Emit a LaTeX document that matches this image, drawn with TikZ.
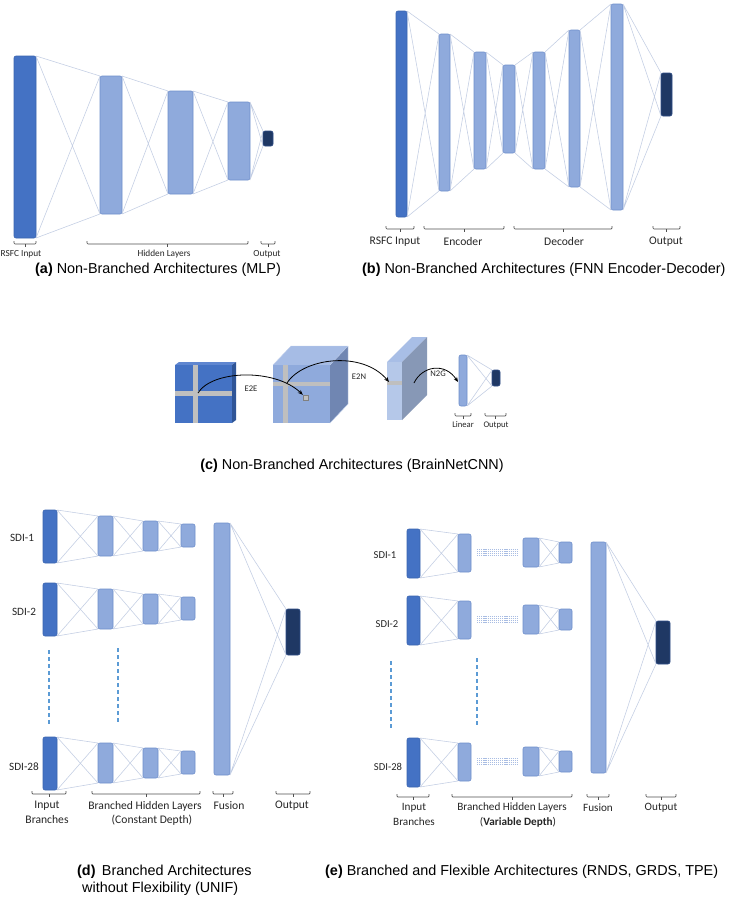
\documentclass[tikz,border=0pt]{standalone}
\usepackage{fontspec}
\setmainfont{Liberation Sans}
\newfontfamily\labf{Carlito}
\usetikzlibrary{arrows.meta}
\definecolor{inblue}{HTML}{4472C4}
\definecolor{inedge}{HTML}{3A64B0}
\definecolor{hidfill}{HTML}{8FAADC}
\definecolor{hidedge}{HTML}{6E8ECB}
\definecolor{outfill}{HTML}{1F3864}
\definecolor{outedge}{HTML}{2E4C86}
\definecolor{conncol}{HTML}{C2CDE3}
\definecolor{bracecol}{HTML}{505050}
\definecolor{txtcol}{HTML}{262626}
\definecolor{dashcol}{HTML}{5B9BD5}
\definecolor{crossgray}{HTML}{BFBFBF}
\definecolor{sqtop}{HTML}{5F86D0}
\definecolor{sqside}{HTML}{2F5597}
\definecolor{cubefront}{HTML}{8FAADC}
\definecolor{cubetop}{HTML}{A6BCE5}
\definecolor{cubeside}{HTML}{7086B2}
\definecolor{slabfront}{HTML}{B5C8E9}
\definecolor{slabtop}{HTML}{A8BEE6}
\definecolor{slabside}{HTML}{8798B6}
\definecolor{dotcol}{HTML}{A9BDE3}
\newcommand{\lay}[6]{\node[#1, minimum width={(#4)-(#2)}, minimum height={(#5)-(#3)}] (#6) at ({((#2)+(#4))/2},{((#3)+(#5))/2}) {};}
\newcommand{\fc}[2]{\draw[conn] (#1.north east) -- (#2.north west) (#1.north east) -- (#2.south west) (#1.south east) -- (#2.north west) (#1.south east) -- (#2.south west);}
\newcommand{\brc}[3]{\draw[brk] ({#1},{#3}) -- ({#1},{#3+3}) -- ({#2},{#3+3}) -- ({#2},{#3}); \draw[brk] ({((#1)+(#2))/2},{#3+3}) -- ({((#1)+(#2))/2},{#3+6});}
\tikzset{
  layerbase/.style={rectangle, rounded corners=2pt, line width=0.6pt, inner sep=0pt, outer sep=0pt},
  inlayer/.style={layerbase, draw=inedge, fill=inblue},
  hidlayer/.style={layerbase, draw=hidedge, fill=hidfill},
  outlayer/.style={layerbase, draw=outedge, fill=outfill},
  conn/.style={draw=conncol, line width=0.55pt},
  brk/.style={draw=bracecol, line width=0.7pt, rounded corners=1pt},
  lab/.style={font=\labf\fontsize{#1}{#1}\selectfont, text=txtcol, inner sep=0pt},
  captext/.style={font=\fontsize{14.4}{16}\selectfont, text=black, inner sep=0pt},
  arr/.style={draw=black, line width=0.8pt, -{Stealth[length=5pt,width=4pt]}},
  vdash/.style={draw=dashcol, line width=1.2pt, dash pattern=on 4pt off 3pt},
  hdots/.style={draw=dotcol, line width=0.5pt, dash pattern=on 1.2pt off 0.9pt},
}
\begin{document}
\begin{tikzpicture}[x=1pt,y=-1pt]
\useasboundingbox[fill=white] (0,0) rectangle (732,900);

% ---------------- (a) MLP
\lay{inlayer}{14}{56}{36}{238}{a0}
\lay{hidlayer}{100}{76}{122}{214}{a1}
\lay{hidlayer}{168}{91}{193}{194}{a2}
\lay{hidlayer}{228}{102}{250}{180}{a3}
\lay{outlayer}{263}{131}{273}{146}{a4}
\fc{a0}{a1}\fc{a1}{a2}\fc{a2}{a3}\fc{a3}{a4}
\brc{14}{36}{241}\brc{87}{248}{241}\brc{261}{275}{241}
\node[lab=9.3] (la0) at (21,254) {RSFC Input};
\node[lab=9.3] (la1) at (164,254) {Hidden Layers};
\node[lab=9.3] (la2) at (267,254) {Output};
\node[captext, anchor=west] (capa) at (35,270) {{\bfseries (a)} Non-Branched Architectures (MLP)};

% ---------------- (b) Encoder-Decoder
\lay{inlayer}{396}{11}{407}{217}{b0}
\lay{hidlayer}{439}{34}{450}{191}{b1}
\lay{hidlayer}{474}{52}{486}{169}{b2}
\lay{hidlayer}{503}{65}{515}{153}{b3}
\lay{hidlayer}{533}{52}{545}{169}{b4}
\lay{hidlayer}{569}{30}{580}{187}{b5}
\lay{hidlayer}{611}{4}{623}{210}{b6}
\lay{outlayer}{661}{73}{672}{116}{b7}
\fc{b0}{b1}\fc{b1}{b2}\fc{b2}{b3}\fc{b3}{b4}\fc{b4}{b5}\fc{b5}{b6}\fc{b6}{b7}
\brc{386}{414}{226}\brc{424}{504}{226}\brc{514}{612}{226}\brc{653}{680}{226}
\node[lab=11.6] (lb0) at (395,242) {RSFC Input};
\node[lab=11.6] (lb1) at (463,242) {Encoder};
\node[lab=11.6] (lb2) at (564,242) {Decoder};
\node[lab=11.6] (lb3) at (666,242) {Output};
\node[captext, anchor=west] (capb) at (362,270) {{\bfseries (b)} Non-Branched Architectures (FNN Encoder-Decoder)};

% ---------------- (c) BrainNetCNN
\fill[sqtop] (175,365) -- (179,362) -- (236,362) -- (232,365) -- cycle;
\fill[sqside] (232,365) -- (236,362) -- (236,420) -- (232,423) -- cycle;
\fill[inblue] (175,365) rectangle (232,423);
\fill[crossgray] (193,365) rectangle (198,423);
\fill[crossgray] (175,391) rectangle (232,396);
\fill[cubetop] (273,365) -- (291,346) -- (348,346) -- (330,365) -- cycle;
\fill[cubeside] (330,365) -- (348,346) -- (348,404) -- (330,423) -- cycle;
\fill[cubefront] (273,365) rectangle (330,423);
\draw[cubetop!70!white, line width=0.4pt] (273,365) -- (291,346) -- (348,346) -- (348,404) -- (330,423) (330,365) -- (348,346);
\fill[crossgray] (283,365) rectangle (288,423);
\fill[crossgray] (273,382) rectangle (330,386);
\node[draw=gray, fill=crossgray, line width=0.4pt, minimum size=5pt, inner sep=0pt] (sq) at (305.5,397.5) {};
\fill[slabtop] (387,362) -- (412,337) -- (427,337) -- (402,362) -- cycle;
\fill[slabside] (402,362) -- (427,337) -- (427,395) -- (402,420) -- cycle;
\fill[slabfront] (387,362) rectangle (402,420);
\fill[crossgray] (387,381) rectangle (402,385);
\coordinate (e2es) at (198,393);
\coordinate (e2ee) at (sq.north west);
\coordinate (e2ns) at (287,383);
\coordinate (e2ne) at (389,382);
\coordinate (n2gs) at (414,383);
\draw[arr] (e2es) .. controls (212,370) and (275,368) .. (e2ee);
\draw[arr] (e2ns) .. controls (303,358) and (362,350) .. (e2ne);
\lay{hidlayer}{459}{355}{467}{406}{c1}
\lay{outlayer}{492}{370}{500}{386}{c2}
\coordinate (n2ge) at (458,382);
\draw[arr] (n2gs) .. controls (422,366) and (445,362) .. (n2ge);
\fc{c1}{c2}
\node[lab=8.6] (le2e) at (251,389) {E2E};
\node[lab=8.6] (le2n) at (359,377) {E2N};
\node[lab=8.6] (ln2g) at (438,374) {N2G};
\brc{455}{471}{413}\brc{485}{506}{413}
\node[lab=8.6] (lc1) at (463,425) {Linear};
\node[lab=8.6] (lc2) at (496,425) {Output};
\node[captext] (capc) at (352,466) {{\bfseries (c)} Non-Branched Architectures (BrainNetCNN)};

% ---------------- (d) UNIF
\foreach \o/\n in {0/1,73/2,227/28}{
  \lay{inlayer}{43}{510+\o}{57}{563+\o}{d\n i}
  \lay{hidlayer}{98}{516+\o}{113}{556+\o}{d\n a}
  \lay{hidlayer}{143}{521+\o}{158}{551+\o}{d\n b}
  \lay{hidlayer}{181}{524+\o}{195}{547+\o}{d\n c}
  \fc{d\n i}{d\n a}\fc{d\n a}{d\n b}\fc{d\n b}{d\n c}
}
\lay{hidlayer}{214}{523}{230}{775}{dfu}
\lay{outlayer}{286}{609}{300}{655}{dout}
\fc{dfu}{dout}
\coordinate (dv1a) at (49,650); \coordinate (dv1b) at (49,725);
\coordinate (dv2a) at (118,648); \coordinate (dv2b) at (118,723);
\draw[vdash] (dv1a) -- (dv1b);
\draw[vdash] (dv2a) -- (dv2b);
\node[lab=11.2] (ds1) at (22,538) {SDI-1};
\node[lab=11.2] (ds2) at (24,612) {SDI-2};
\node[lab=11.2] (ds28) at (24,767) {SDI-28};
\brc{32}{66}{791}\brc{92}{200}{791}\brc{213}{233}{791}\brc{276}{310}{791}
\node[lab=11.6] (ld1) at (47,806) {Input};
\node[lab=11.6] (ld2) at (47,820) {Branches};
\node[lab=11.6] (ld3) at (145,806) {Branched Hidden Layers};
\node[lab=11.6] (ld4) at (152,820) {(Constant Depth)};
\node[lab=11.6] (ld5) at (229,806) {Fusion};
\node[lab=11.6] (ld6) at (292,806) {Output};
\node[captext, anchor=west] (capd1) at (77,872) {{\bfseries (d)}\, Branched Architectures};
\node[captext, anchor=west] (capd2) at (82,889) {without Flexibility (UNIF)};

% ---------------- (e) flexible
\foreach \o/\n in {0/1,67/2,209/28}{
  \lay{inlayer}{407}{529+\o}{420}{578+\o}{e\n i}
  \lay{hidlayer}{458}{534+\o}{471}{572+\o}{e\n a}
  \lay{hidlayer}{523}{538+\o}{539}{567+\o}{e\n k}
  \lay{hidlayer}{559}{542+\o}{572}{563+\o}{e\n l}
  \fc{e\n i}{e\n a}\fc{e\n k}{e\n l}
  \foreach \d in {549,551,553,555}{
    \draw[hdots] (477,{\d+\o}) -- (518,{\d+\o});
  }
}
\lay{hidlayer}{591}{542}{606}{773}{efu}
\lay{outlayer}{656}{621}{670}{664}{eout}
\fc{efu}{eout}
\coordinate (ev1a) at (391,661); \coordinate (ev1b) at (391,729);
\coordinate (ev2a) at (477,658); \coordinate (ev2b) at (477,726);
\draw[vdash] (ev1a) -- (ev1b);
\draw[vdash] (ev2a) -- (ev2b);
\node[lab=10.6] (es1) at (385,555) {SDI-1};
\node[lab=10.6] (es2) at (387,624) {SDI-2};
\node[lab=10.6] (es28) at (388,767) {SDI-28};
\brc{397}{429}{794}\brc{452}{572}{794}\brc{587}{609}{794}\brc{646}{676}{794}
\node[lab=11.2] (le1) at (414,808) {Input};
\node[lab=11.2] (le2) at (414,822) {Branches};
\node[lab=11.2] (le3) at (512,808) {Branched Hidden Layers};
\node[lab=11.2] (le4) at (518,822) {(\textbf{Variable Depth})};
\node[lab=11.2] (le5) at (598,808) {Fusion};
\node[lab=11.2] (le6) at (661,808) {Output};
\node[captext, anchor=west] (cape) at (325,872) {{\bfseries (e)} Branched and Flexible Architectures (RNDS, GRDS, TPE)};
\end{tikzpicture}
\end{document}
